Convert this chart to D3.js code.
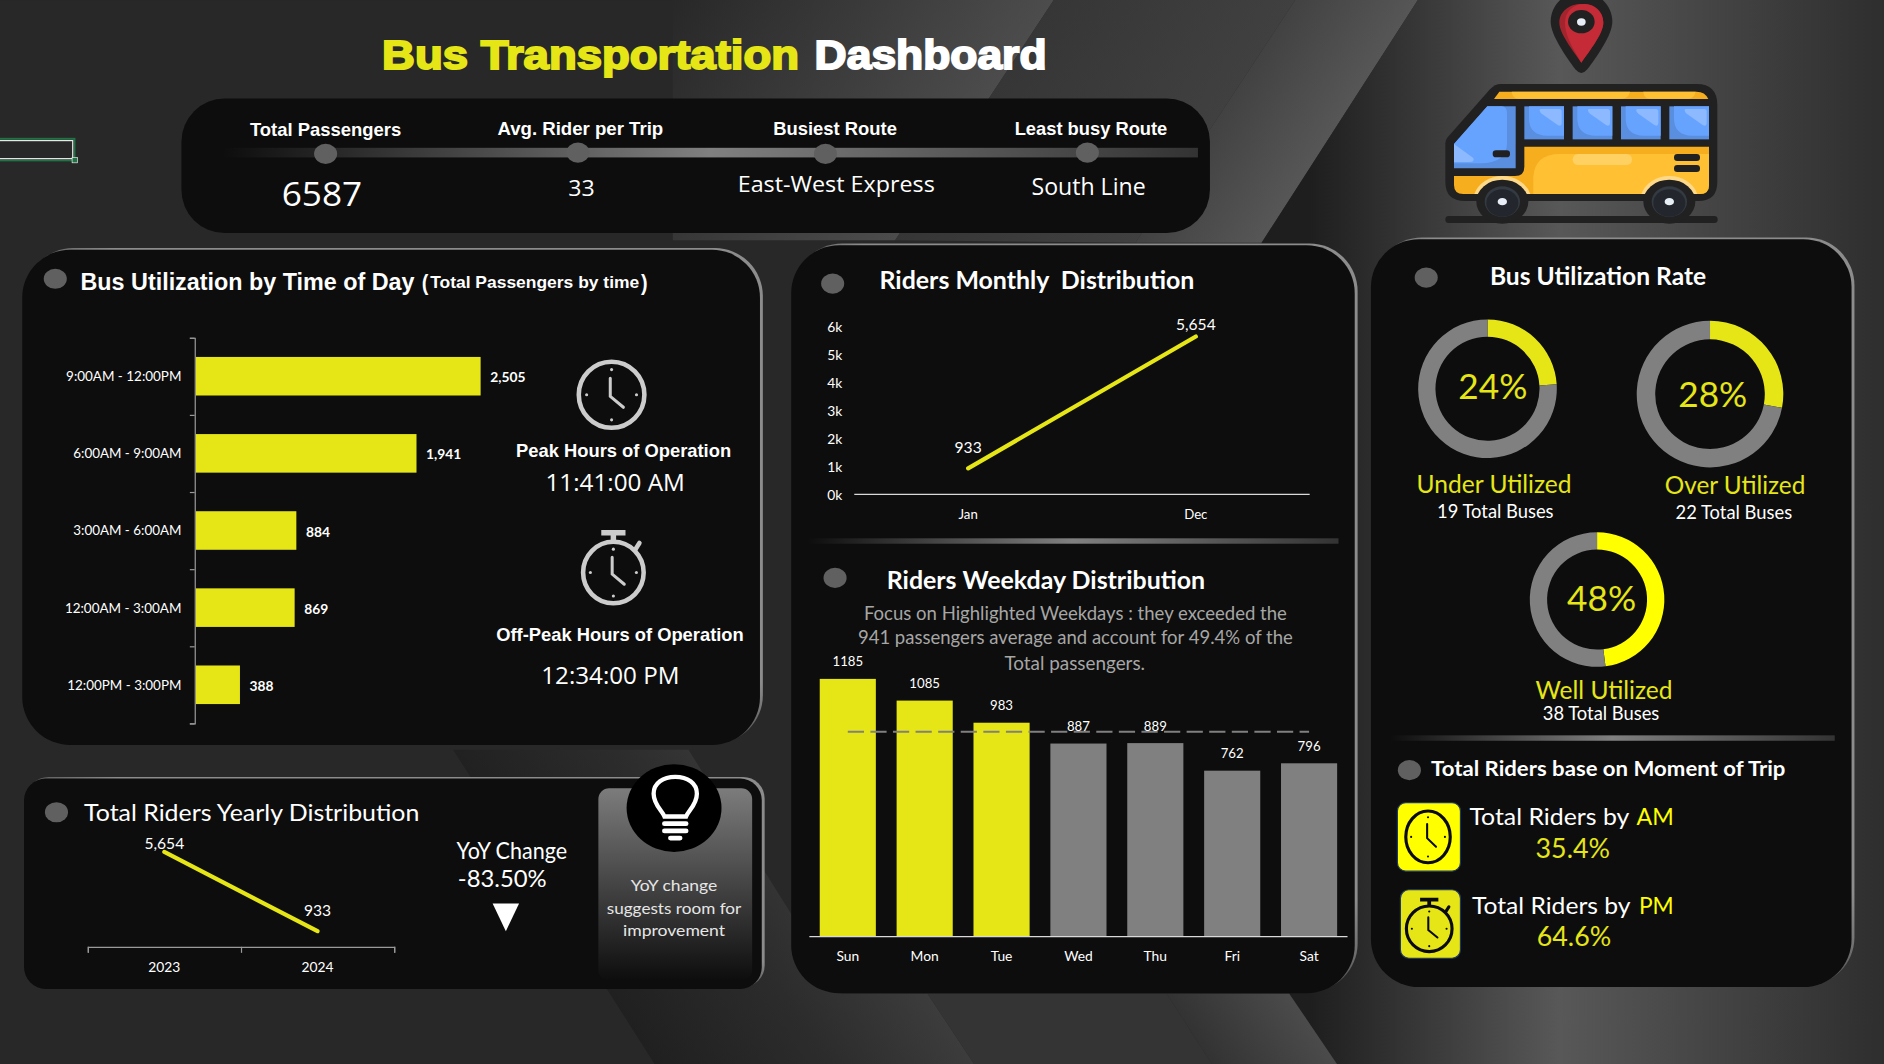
<!DOCTYPE html>
<html lang="en">
<head>
<meta charset="UTF-8">
<title>Bus Transportation Dashboard</title>
<script src="https://cdn.jsdelivr.net/npm/d3@7"></script>
<style>
  html, body { margin: 0; padding: 0; background: #282828; overflow: hidden; }
  svg { display: block; }
  text { white-space: pre; }
</style>
</head>
<body>
<div id="app"></div>
<script>
// data
const timeSlots = ['9:00AM - 12:00PM', '6:00AM - 9:00AM', '3:00AM - 6:00AM', '12:00AM - 3:00AM', '12:00PM - 3:00PM']
const timeValues = [2505, 1941, 884, 869, 388]
const monthNames = ['Jan', 'Dec']
const monthValues = [933, 5654]
const monthTicks = [0, 1000, 2000, 3000, 4000, 5000, 6000]
const yearNames = ['2023', '2024']
const yearValues = [5654, 933]
const dayNames = ['Sun', 'Mon', 'Tue', 'Wed', 'Thu', 'Fri', 'Sat']
const dayValues = [1185, 1085, 983, 887, 889, 762, 796]
const dayAverage = 941
const utilShares = [24, 28, 48]
const utilNames = ['Under Utilized', 'Over Utilized', 'Well Utilized']
const utilBuses = [19, 22, 38]
const kpiNames = ['Total Passengers', 'Avg. Rider per Trip', 'Busiest Route', 'Least busy Route']
const kpiValues = ['6587', '33', 'East-West Express', 'South Line']

const YELLOW = '#e6e617', PURE = '#ffff00', GRAY = '#808080', PANEL = '#0d0d0d', DOT = '#606060'
const CAL = 'Lato, Carlito, sans-serif', ARIAL = '"Liberation Sans", Arial, sans-serif', OPEN = '"Open Sans", sans-serif'

// layout is in the 1568 wide frame I measured, viewBox blows it up to the window
const svg = d3.select('#app').append('svg')
  .attr('width', 1884).attr('height', 1064)
  .attr('viewBox', '0 0 1568 885.5')
const defs = svg.append('defs')

function gradient(id, stops, x1 = 0, y1 = 0, x2 = 1, y2 = 0, user = false) {
  const g = defs.append('linearGradient').attr('id', id)
    .attr('x1', x1).attr('y1', y1).attr('x2', x2).attr('y2', y2)
  if (user) g.attr('gradientUnits', 'userSpaceOnUse')
  stops.forEach(s => g.append('stop').attr('offset', s[0]).attr('stop-color', s[1]).attr('stop-opacity', s[2] === undefined ? 1 : s[2]))
}
// gradient running across a slanted shard, x0 and x1 are where its edges cross the line y = y0
function slant(id, stops, x0, x1, y0, nx, ny) {
  const d = x1 - x0
  gradient(id, stops, x0, y0, x0 + d * nx * nx, y0 + d * nx * ny, true)
}
slant('bgA', [[0, '#282828'], [1, '#4c4c4c']], 560, 877, 0, 0.835, 0.55)
slant('bgB', [[0, '#363636'], [1, '#404040']], 877, 1078, 0, 0.835, 0.55)
slant('bgC', [[0, '#424242'], [1, '#565656']], 1078, 1180, 0, 0.835, 0.55)
gradient('bgE', [[0, '#1e1e1e'], [0.435, '#585858'], [1, '#2e2e2e']], 1090, 0, 1568, 0, true)
slant('bgF', [[0, '#202020'], [0.55, '#2c2c2c'], [1, '#3c3c3c']], 545, 811, 885, 0.823, -0.567)
slant('bgG', [[0, '#333333'], [1, '#4b4b4b']], 1009, 1113, 885, 0.823, -0.567)
gradient('rail', [[0, '#808080', 0], [0.5, '#808080'], [1, '#333333']])
gradient('edge', [[0, '#8c8c8c', 0], [0.44, '#8c8c8c', 0], [0.56, '#8c8c8c', 1], [1, '#8c8c8c', 1]], 0, 1, 1, 0)
gradient('tipBox', [[0, '#7c7c7c'], [1, '#0d0d0d']], 0, 0, 0, 1)

function txt(parent, x, y, s, o = {}) {
  const nudge = o.font === ARIAL ? 0 : -1 // Lato and Open Sans sit a bit low
  const t = parent.append('text').attr('x', x).attr('y', y + nudge)
    .attr('dominant-baseline', 'central')
    .attr('text-anchor', o.anchor || 'middle')
    .attr('font-family', o.font || CAL)
    .attr('font-size', o.size || 12)
    .attr('font-weight', o.weight || 400)
    .attr('fill', o.fill || '#ffffff')
    .text(s)
  if (o.w) t.attr('textLength', o.w).attr('lengthAdjust', 'spacingAndGlyphs')
  if (o.stroke) t.attr('stroke', o.fill || '#fff').attr('stroke-width', o.stroke)
  return t
}
function panel(x, y, w, h, r) {
  // grey sliver peeking out top and right, like the picture's offset shadow
  svg.append('rect').attr('x', x + 2.4).attr('y', y - 1.4).attr('width', w).attr('height', h).attr('rx', r).attr('fill', 'url(#edge)')
  svg.append('rect').attr('x', x).attr('y', y).attr('width', w).attr('height', h).attr('rx', r).attr('fill', PANEL)
}
function dot(cx, cy) {
  svg.append('ellipse').attr('cx', cx).attr('cy', cy).attr('rx', 9.6).attr('ry', 8.4).attr('fill', DOT)
}
function rail(x, y, w, h = 4.5) {
  svg.append('rect').attr('x', x).attr('y', y).attr('width', w).attr('height', h).attr('fill', 'url(#rail)')
}
function poly(pts, fill) {
  svg.append('polygon').attr('points', pts.map(p => p.join(',')).join(' ')).attr('fill', fill)
}
function clock(cx, cy, rx, ry, color, sw, watch) {
  const g = svg.append('g').attr('fill', 'none').attr('stroke', color).attr('stroke-linecap', 'round')
  g.append('ellipse').attr('cx', cx).attr('cy', cy).attr('rx', rx).attr('ry', ry).attr('stroke-width', sw)
  ;[[0, -0.76], [0, 0.76], [-0.76, 0], [0.76, 0]].forEach(p => {
    g.append('circle').attr('cx', cx + p[0] * rx).attr('cy', cy + p[1] * ry).attr('r', sw * 0.34)
      .attr('fill', color).attr('stroke', 'none')
  })
  g.append('path').attr('stroke-width', sw * 0.66)
    .attr('d', `M${cx - rx * 0.04},${cy - ry * 0.5} L${cx - rx * 0.04},${cy + ry * 0.05} L${cx + rx * 0.36},${cy + ry * 0.38}`)
  if (watch) {
    g.append('path').attr('stroke-width', sw * 1.2).attr('stroke-linecap', 'butt')
      .attr('d', `M${cx},${cy - ry} L${cx},${cy - ry - sw * 2} M${cx - rx * 0.4},${cy - ry - sw * 2} L${cx + rx * 0.4},${cy - ry - sw * 2}`)
    g.append('path').attr('stroke-width', sw * 1.0)
      .attr('d', `M${cx + rx * 0.72},${cy - ry * 0.74} L${cx + rx * 0.86},${cy - ry * 0.96}`)
  }
}

// ---- background shards
svg.append('rect').attr('width', 1568).attr('height', 886).attr('fill', '#282828')
poly([[560, 0], [877, 0], [745, 200], [560, 200]], 'url(#bgA)')
poly([[877, 0], [1078, 0], [945, 202], [745, 200]], 'url(#bgB)')
poly([[1078, 0], [1180, 0], [1050, 202], [945, 202]], 'url(#bgC)')
poly([[1180, 0], [1568, 0], [1568, 886], [1113, 886], [1073, 827], [1000, 300], [1050, 202]], 'url(#bgE)')
poly([[377, 624], [573, 624], [700, 827], [772, 827], [811, 886], [545, 886], [505, 823]], 'url(#bgF)')
poly([[772, 827], [971, 827], [1009, 886], [811, 886]], '#343434')
poly([[971, 827], [1073, 827], [1113, 886], [1009, 886]], 'url(#bgG)')

// excel cell selection left in the screenshot
svg.append('rect').attr('x', -2).attr('y', 115.5).attr('width', 64).attr('height', 18)
  .attr('fill', 'none').attr('stroke', '#217346').attr('stroke-width', 1.6)
svg.append('rect').attr('x', -2).attr('y', 117).attr('width', 62.5).attr('height', 15)
  .attr('fill', 'none').attr('stroke', '#e8e8e8').attr('stroke-width', 1)
svg.append('rect').attr('x', 60).attr('y', 131).attr('width', 4.5).attr('height', 4.5).attr('fill', '#217346').attr('stroke', '#fff').attr('stroke-width', 0.5)

// ---- title
txt(svg, 318, 45.5, 'Bus Transportation', { anchor: 'start', font: ARIAL, weight: 700, size: 34, fill: YELLOW, w: 347, stroke: 1.6 })
txt(svg, 678, 45.5, 'Dashboard', { anchor: 'start', font: ARIAL, weight: 700, size: 34, w: 193, stroke: 1.6 })

// ---- KPI strip
svg.append('rect').attr('x', 151).attr('y', 82).attr('width', 856).attr('height', 112).attr('rx', 36).attr('fill', PANEL)
rail(185, 123, 812, 8)
const kpiLabelX = [271, 483, 695, 908], kpiLabelY = [108, 107, 107, 107], kpiDotX = [271, 481, 687, 905], kpiDotY = [128, 127, 128, 127]
const kpiValX = [268, 484, 696, 906], kpiValY = [162, 157, 154, 156], kpiValSize = [28, 18.5, 18.5, 19.5], kpiValW = [67, 22, 164, 95], kpiLabW = [126, 138, 103, 127]
kpiNames.forEach((k, i) => {
  txt(svg, kpiLabelX[i], kpiLabelY[i], k, { font: ARIAL, weight: 700, size: 15, w: kpiLabW[i] })
  dot(kpiDotX[i], kpiDotY[i])
  txt(svg, kpiValX[i], kpiValY[i], kpiValues[i], { size: kpiValSize[i], font: OPEN, w: kpiValW[i] })
})

// ---- bus utilization by time of day
panel(18.5, 207.8, 614, 412.2, 40)
dot(46, 232)
txt(svg, 67, 234.5, 'Bus Utilization by Time of Day', { anchor: 'start', font: ARIAL, weight: 700, size: 19.5, w: 278 })
txt(svg, 351, 234.5, '(', { anchor: 'start', font: ARIAL, weight: 700, size: 19, w: 5.5 })
txt(svg, 358, 235.5, 'Total Passengers by time', { anchor: 'start', font: ARIAL, weight: 700, size: 14.2, w: 174 })
txt(svg, 533.5, 234.5, ')', { anchor: 'start', font: ARIAL, weight: 700, size: 19, w: 5.5 })

const timeLabelW = [96, 90, 90, 97, 95]
const timeY = d3.scaleBand().domain(timeSlots).range([281, 602]).paddingInner(0.5).paddingOuter(0.25)
const timeX = d3.scaleLinear().domain([0, d3.max(timeValues)]).range([163, 400])
const timeAxis = svg.append('g').attr('transform', 'translate(162,0)')
  .call(d3.axisLeft(d3.scaleLinear().domain([0, timeSlots.length]).range([281, 602])).ticks(timeSlots.length).tickSize(4).tickFormat(''))
timeAxis.selectAll('path,line').attr('stroke', '#9a9a9a')
svg.append('g').selectAll('rect').data(timeSlots).join('rect')
  .attr('x', timeX(0)).attr('y', d => timeY(d))
  .attr('width', (d, i) => timeX(timeValues[i]) - timeX(0)).attr('height', timeY.bandwidth())
  .attr('fill', YELLOW)
timeSlots.forEach((d, i) => {
  const cy = timeY(d) + timeY.bandwidth() / 2
  txt(svg, 151, cy + 0.5, d, { anchor: 'end', size: 11.5, w: timeLabelW[i] })
  txt(svg, timeX(timeValues[i]) + 8, cy + 1.5, d3.format(',')(timeValues[i]), { anchor: 'start', size: 11.5, weight: 700 })
})

clock(509, 328.5, 27.3, 27.5, '#cccccc', 3.8)
txt(svg, 519, 375.5, 'Peak Hours of Operation', { font: ARIAL, weight: 700, size: 15, w: 179 })
txt(svg, 512, 402, '11:41:00 AM', { size: 20, font: OPEN, w: 116 })
clock(510.5, 476.5, 25.2, 25.6, '#cccccc', 3.8, true)
txt(svg, 516, 528.5, 'Off-Peak Hours of Operation', { font: ARIAL, weight: 700, size: 15, w: 206 })
txt(svg, 508, 562.5, '12:34:00 PM', { size: 20, font: OPEN, w: 115 })

// ---- yearly panel
panel(20, 648, 614, 175, 18)
dot(47, 676)
txt(svg, 70, 676.5, 'Total Riders Yearly Distribution', { anchor: 'start', size: 20, w: 279 })
const yearX = d3.scaleBand().domain(yearNames).range([73, 328])
const yearY = d3.scaleLinear().domain([0, d3.max(yearValues)]).range([788, 709])
const yearAxis = svg.append('g').attr('transform', 'translate(0,788)')
  .call(d3.axisBottom(d3.scaleLinear().domain([0, 2]).range([73, 328])).ticks(2).tickSize(5).tickFormat(''))
yearAxis.selectAll('path,line').attr('stroke', '#9a9a9a')
svg.append('path').datum(yearValues)
  .attr('fill', 'none').attr('stroke', YELLOW).attr('stroke-width', 3.5).attr('stroke-linecap', 'round')
  .attr('d', d3.line().x((d, i) => yearX(yearNames[i]) + yearX.bandwidth() / 2).y(d => yearY(d)))
yearNames.forEach((d, i) => {
  const cx = yearX(d) + yearX.bandwidth() / 2
  txt(svg, cx, 805, d, { size: 11.5 })
  txt(svg, cx, i ? yearY(yearValues[i]) - 16.5 : yearY(yearValues[i]) - 6.5, d3.format(',')(yearValues[i]), { size: 13 })
})
txt(svg, 380, 708.5, 'YoY Change', { anchor: 'start', size: 18.5, w: 92 })
txt(svg, 381, 731.5, '-83.50%', { anchor: 'start', size: 20, w: 74 })
svg.append('path').attr('d', d3.line()([[410, 752], [432, 752], [421, 775]]) + 'Z').attr('fill', '#fff')

svg.append('rect').attr('x', 498).attr('y', 656).attr('width', 128).attr('height', 160).attr('rx', 9).attr('fill', 'url(#tipBox)')
svg.append('ellipse').attr('cx', 561).attr('cy', 672.5).attr('rx', 39.5).attr('ry', 36.5).attr('fill', '#000')
const bulb = svg.append('g').attr('transform', 'translate(562,672.5)')
bulb.append('path').attr('fill', 'none').attr('stroke', '#fff').attr('stroke-width', 3.6)
  .attr('d', 'M-9,7 C-11,2 -18,-3 -18,-12 C-18,-21 -10,-26 0,-26 C10,-26 18,-21 18,-12 C18,-3 11,2 9,7 Z')
bulb.selectAll('rect').data([11, 17, 23]).join('rect')
  .attr('x', (d, i) => i === 2 ? -6 : -11).attr('y', d => d).attr('width', (d, i) => i === 2 ? 12 : 22).attr('height', 4).attr('rx', 2).attr('fill', '#fff')
;['YoY change', 'suggests room for', 'improvement'].forEach((s, i) => {
  txt(svg, 561, [737.5, 756.5, 774.5][i], s, { size: 13.5, fill: '#e6e6e6', w: [72, 112, 85][i] })
})

// ---- monthly + weekday panel
panel(658.5, 204, 469, 622.6, 40)
dot(693, 236)
txt(svg, 732, 234, 'Riders Monthly  Distribution', { anchor: 'start', size: 20.5, weight: 700, w: 262 })
const monthX = d3.scaleBand().domain(monthNames).range([711, 1090])
const monthY = d3.scaleLinear().domain([0, 6000]).range([411.5, 272])
svg.append('line').attr('x1', 711).attr('x2', 1090).attr('y1', monthY(0)).attr('y2', monthY(0)).attr('stroke', '#d9d9d9').attr('stroke-width', 1)
monthTicks.forEach(t => txt(svg, 701, monthY(t) + 1, (t / 1000) + 'k', { anchor: 'end', size: 11.5 }))
svg.append('path').datum(monthValues)
  .attr('fill', 'none').attr('stroke', YELLOW).attr('stroke-width', 3.5).attr('stroke-linecap', 'round')
  .attr('d', d3.line().x((d, i) => monthX(monthNames[i]) + monthX.bandwidth() / 2).y(d => monthY(d)))
monthNames.forEach((d, i) => {
  const cx = monthX(d) + monthX.bandwidth() / 2
  txt(svg, cx, 429, d, { size: 11 })
  txt(svg, cx, i ? monthY(monthValues[i]) - 9 : monthY(monthValues[i]) - 16.5, d3.format(',')(monthValues[i]), { size: 13 })
})
rail(672, 448, 442)

dot(695, 481)
txt(svg, 738, 483.5, 'Riders Weekday Distribution', { anchor: 'start', size: 20.5, weight: 700, w: 265 })
;['Focus on Highlighted Weekdays : they exceeded the', '941 passengers average and account for 49.4% of the', 'Total passengers.'].forEach((s, i) => {
  txt(svg, [895, 895, 894.5][i], [511.5, 531.5, 552.5][i], s, { size: 15.5, fill: '#a6a6a6', w: [352, 362, 117][i] })
})
const dayX = d3.scaleBand().domain(dayNames).range([673.6, 1121.5]).paddingInner(0.27).paddingOuter(0.135)
const dayY = d3.scaleLinear().domain([0, d3.max(dayValues)]).range([779, 565])
svg.append('g').selectAll('rect').data(dayNames).join('rect')
  .attr('x', d => dayX(d)).attr('width', dayX.bandwidth())
  .attr('y', (d, i) => dayY(dayValues[i])).attr('height', (d, i) => dayY(0) - dayY(dayValues[i]))
  .attr('fill', (d, i) => dayValues[i] > dayAverage ? YELLOW : GRAY)
svg.append('line').attr('x1', dayX('Sun') + dayX.bandwidth() / 2).attr('x2', dayX('Sat') + dayX.bandwidth() / 2)
  .attr('y1', dayY(dayAverage)).attr('y2', dayY(dayAverage))
  .attr('stroke', '#808080').attr('stroke-width', 1.7).attr('stroke-dasharray', '13.5 5.3')
svg.append('line').attr('x1', 673.6).attr('x2', 1121.5).attr('y1', 779.5).attr('y2', 779.5).attr('stroke', '#d9d9d9').attr('stroke-width', 1)
dayNames.forEach((d, i) => {
  const cx = dayX(d) + dayX.bandwidth() / 2
  txt(svg, cx, dayY(dayValues[i]) - 13.5, String(dayValues[i]), { size: 11 })
  txt(svg, cx, 796, d, { size: 11.5 })
})

// ---- utilization panel
panel(1141, 199, 400, 622.5, 40)
dot(1187, 231)
txt(svg, 1240, 230.5, 'Bus Utilization Rate', { anchor: 'start', size: 20, weight: 700, w: 180 })
const donutCx = [1238, 1423.2, 1329.2], donutCy = [323.5, 328, 499], donutR = [57.7, 61, 56], donutIn = [43.3, 45.6, 41.6]
const pctX = [1242.5, 1425.5, 1333], pctY = [321.5, 328.5, 498.5]
const nameX = [1243.5, 1444, 1335], nameY = [403.5, 404.5, 574.5], nameW = [129, 117, 114]
const busX = [1244.5, 1443, 1332.5], busY = [426.5, 427.5, 594.5]
const pie = d3.pie().sort(null).value(d => d)
utilShares.forEach((v, i) => {
  const arc = d3.arc().innerRadius(donutIn[i]).outerRadius(donutR[i])
  svg.append('g').attr('transform', `translate(${donutCx[i]},${donutCy[i]})`)
    .selectAll('path').data(pie([v, 100 - v])).join('path')
    .attr('d', arc).attr('fill', (d, j) => j ? GRAY : (i === 2 ? PURE : YELLOW))
  txt(svg, pctX[i], pctY[i], v + '%', { size: 29, fill: YELLOW, w: 57.5 })
  txt(svg, nameX[i], nameY[i], utilNames[i], { size: 20.5, fill: YELLOW, w: nameW[i] })
  txt(svg, busX[i], busY[i], utilBuses[i] + ' Total Buses', { size: 15.5, w: 97 })
})
rail(1157, 612, 370)
dot(1173, 641)
txt(svg, 1191, 640.5, 'Total Riders base on Moment of Trip', { anchor: 'start', size: 18, weight: 700, w: 295 })

svg.append('rect').attr('x', 1163).attr('y', 668).attr('width', 52.5).attr('height', 57).attr('rx', 7).attr('fill', PURE).attr('stroke', '#1f3864').attr('stroke-width', 1)
clock(1188.5, 696.5, 18.5, 21.5, '#0a0a0a', 2.6)
svg.append('rect').attr('x', 1165.5).attr('y', 740.5).attr('width', 50).attr('height', 57).attr('rx', 7).attr('fill', YELLOW).attr('stroke', '#1f3864').attr('stroke-width', 1)
clock(1189.5, 773, 19, 19, '#0a0a0a', 2.6, true)

txt(svg, 1223, 680, 'Total Riders by', { anchor: 'start', size: 20, w: 133 })
txt(svg, 1362, 680, 'AM', { anchor: 'start', size: 20, fill: PURE, w: 31 })
txt(svg, 1309, 707, '35.4%', { size: 22, fill: YELLOW, w: 62 })
txt(svg, 1225, 754, 'Total Riders by', { anchor: 'start', size: 20, w: 132 })
txt(svg, 1364, 754, 'PM', { anchor: 'start', size: 20, fill: PURE, w: 29 })
txt(svg, 1310, 780, '64.6%', { size: 22, fill: YELLOW, w: 62 })

// ---- bus + pin picture, paths traced in a 3x crop of the top right corner
const art = svg.append('g').attr('transform', `scale(${1568 / 1884}) translate(1380,0) scale(${1 / 3})`)
const INK = '#212121'
art.append('path').attr('fill', INK).attr('d', 'M604,-25 C655,-25 697,15 697,65 C697,105 650,170 622,208 Q604,230 586,208 C558,170 512,105 512,65 C512,15 553,-25 604,-25Z')
art.append('path').attr('fill', '#a3242d').attr('d', 'M604,12 C640,12 670,35 670,68 C670,100 630,150 604,188 C578,150 538,100 538,68 C538,35 568,12 604,12Z')
art.append('path').attr('fill', '#c42b36').attr('d', 'M612,12 C645,12 670,35 670,68 C670,100 630,150 604,188 C590,160 555,115 555,68 C555,35 580,12 612,12Z')
art.append('ellipse').attr('cx', 604).attr('cy', 65).attr('rx', 40).attr('ry', 35).attr('fill', INK)
art.append('ellipse').attr('cx', 604).attr('cy', 66).attr('rx', 13).attr('ry', 11).attr('fill', '#e8eef5')

art.append('rect').attr('x', 196).attr('y', 648).attr('width', 817).attr('height', 21).attr('rx', 10).attr('fill', INK)
art.append('path').attr('fill', INK).attr('d', 'M362,252 L950,252 Q1012,252 1012,315 L1012,545 Q1012,603 955,603 L255,603 Q196,603 196,545 L196,430 Q196,420 203,412 L330,268 Q345,252 362,252Z')
art.append('path').attr('fill', '#f6ae1e').attr('d', 'M342,297 L358,275 L950,275 Q975,275 985,297Z')
art.append('path').attr('fill', '#ffc033').attr('d', 'M395,275 L750,275 Q745,296 725,296 L415,296 Q398,296 395,275Z M790,275 L947,275 Q942,296 925,296 L810,296 Q792,296 790,275Z')
art.append('path').attr('fill', '#5a8fe0').attr('d', 'M322,319 L407,319 L407,505 L222,505 L222,432Z')
art.append('path').attr('fill', '#66a3ff').attr('d', 'M322,319 L365,319 Q381,319 381,340 L381,430 Q381,490 300,490 L222,490 L222,432Z')
art.append('path').attr('fill', '#8cb9ff').attr('d', 'M222,432 L280,474 Q284,486 270,486 L222,486Z')
art.append('rect').attr('x', 338).attr('y', 451).attr('width', 52).attr('height', 21).attr('rx', 10).attr('fill', INK)
;[433, 578, 723, 868].forEach(x => {
  const w = art.append('g').attr('transform', `translate(${x},319)`)
  w.append('rect').attr('width', 119).attr('height', 99).attr('fill', '#5a8fe0')
  w.append('path').attr('fill', '#66a3ff').attr('d', 'M14,0 L119,0 L119,88 L70,88 Q14,88 14,35Z')
  w.append('path').attr('fill', '#8cb9ff').attr('d', 'M48,8 L105,8 Q112,8 112,16 L112,50 Q112,62 100,56 L52,22 Q42,12 48,8Z')
})
art.append('path').attr('fill', '#f6ae1e').attr('d', 'M433,440 L987,440 L987,555 Q987,582 960,582 L250,582 Q222,582 222,555 L222,528 L405,528 Q433,528 433,500Z')
art.append('path').attr('fill', '#ffc033').attr('d', 'M460,582 L460,530 Q465,462 540,462 L987,462 L987,555 Q987,582 960,582Z')
art.append('rect').attr('x', 578).attr('y', 462).attr('width', 178).attr('height', 33).attr('rx', 16).attr('fill', '#ffd062')
art.append('rect').attr('x', 882).attr('y', 462).attr('width', 78).attr('height', 21).attr('rx', 10).attr('fill', INK)
art.append('rect').attr('x', 882).attr('y', 495).attr('width', 78).attr('height', 21).attr('rx', 10).attr('fill', INK)
;[367, 868].forEach(x => {
  art.append('path').attr('fill', '#ffd98a').attr('d', `M${x - 84},582 A88,77 0 0 1 ${x + 84},582Z`)
  art.append('ellipse').attr('cx', x).attr('cy', 605).attr('rx', 78).attr('ry', 66).attr('fill', INK)
  art.append('ellipse').attr('cx', x).attr('cy', 605).attr('rx', 53).attr('ry', 46).attr('fill', '#343a42')
  art.append('ellipse').attr('cx', x).attr('cy', 609).attr('rx', 48).attr('ry', 41).attr('fill', '#23272d')
  art.append('ellipse').attr('cx', x).attr('cy', 605).attr('rx', 14).attr('ry', 11).attr('fill', '#e8eef5')
})
</script>
</body>
</html>
